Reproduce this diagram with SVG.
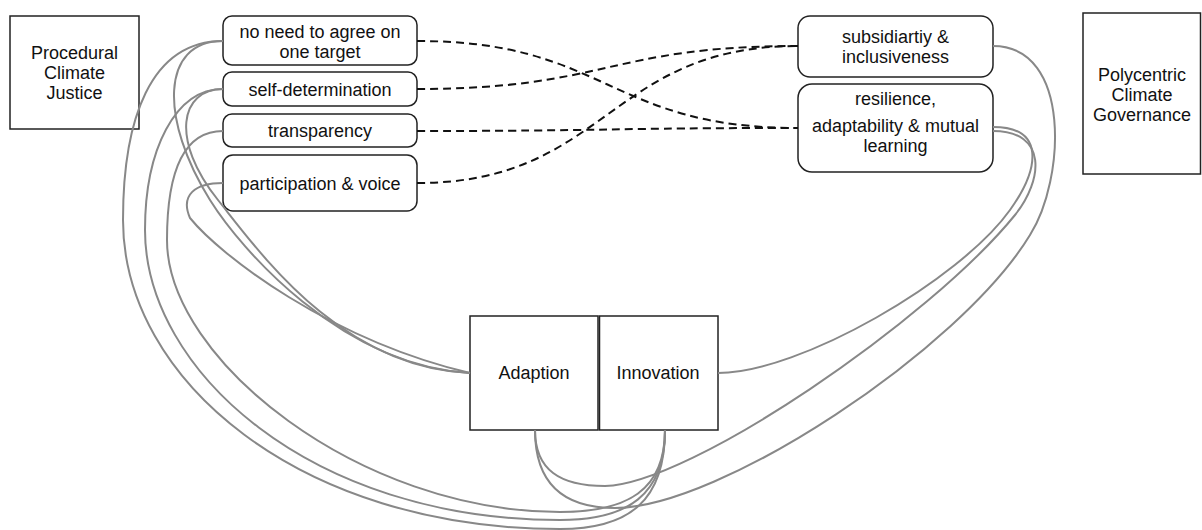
<svg xmlns="http://www.w3.org/2000/svg" width="1202" height="530" viewBox="0 0 1202 530">
<style>
.box{fill:#fff;stroke:#222;stroke-width:1.5}
.t{font-family:"Liberation Sans",Arial,sans-serif;font-size:18px;fill:#111;text-anchor:middle}
.g{fill:none;stroke:#888;stroke-width:2}
.d{fill:none;stroke:#111;stroke-width:2;stroke-dasharray:8 5}
</style>
<rect width="1202" height="530" fill="#fff"/>
<g id="nodes">
<g id="procedural"><rect class="box" x="10" y="16" width="129" height="113"/><text class="t" x="74.5" y="59">Procedural</text><text class="t" x="74.5" y="79">Climate</text><text class="t" x="74.5" y="99">Justice</text></g>
<g id="polycentric"><rect class="box" x="1083" y="13" width="117.5" height="161"/><text class="t" x="1142" y="81">Polycentric</text><text class="t" x="1142" y="101">Climate</text><text class="t" x="1142" y="121">Governance</text></g>
<g id="noneed"><rect class="box" x="223" y="16" width="194" height="49" rx="9"/><text class="t" x="320" y="38">no need to agree on</text><text class="t" x="320" y="58">one target</text></g>
<g id="selfdet"><rect class="box" x="223" y="72" width="194" height="34" rx="9"/><text class="t" x="320" y="95.5">self-determination</text></g>
<g id="transparency"><rect class="box" x="223" y="114" width="194" height="33" rx="9"/><text class="t" x="320" y="137">transparency</text></g>
<g id="participation"><rect class="box" x="223" y="155" width="194" height="56" rx="10"/><text class="t" x="320" y="189.5">participation &amp; voice</text></g>
<g id="subsidiarity"><rect class="box" x="798" y="16" width="195" height="61" rx="12"/><text class="t" x="895.5" y="43">subsidiartiy &amp;</text><text class="t" x="895.5" y="63">inclusiveness</text></g>
<g id="resilience"><rect class="box" x="798" y="84" width="195" height="88" rx="14"/><text class="t" x="895.5" y="105">resilience,</text><text class="t" x="895.5" y="132">adaptability &amp; mutual</text><text class="t" x="895.5" y="152">learning</text></g>
<g id="adaption"><rect class="box" x="470" y="316" width="128" height="114"/><text class="t" x="534" y="379">Adaption</text></g>
<g id="innovation"><rect class="box" x="599.5" y="316" width="118.5" height="114"/><text class="t" x="658" y="379">Innovation</text></g>
</g>
<g id="connectors">
<path class="d" d="M417,41 C607,41 608,128 798,128"/>
<path class="d" d="M417,89 C607,89 608,46 798,46"/>
<path class="d" d="M417,131 C607,131 608,128 798,128"/>
<path class="d" d="M417,183 C607,183 608,46 798,46"/>
<path class="g" d="M223,41 C160,41 160,120 210,200 C240,248 340,365 470,373"/>
<path class="g" d="M223,89 C180,89 170,140 218,200 C258,250 340,368 470,373"/>
<path class="g" d="M223,183 C195,183 180,195 190,218 C220,255 330,340 470,373"/>
<path class="g" d="M223,41 C150,41 123,120 123,220 C123,380 300,529 560,529 C630,529 665,500 665,430"/>
<path class="g" d="M223,89 C175,89 145,150 145,230 C145,370 310,520 560,520 C628,520 665,495 665,430"/>
<path class="g" d="M223,131 C185,131 167,170 167,240 C167,360 360,512 560,512 C628,512 665,490 665,430"/>
<path class="g" d="M718,373 C800,373 960,280 1010,210 C1040,168 1045,127 993,127"/>
<path class="g" d="M535,430 C535,470 560,486 605,486 C690,484 930,320 1015,215 C1043,180 1048,131 993,131"/>
<path class="g" d="M535,430 C535,490 570,508 615,508 C720,508 960,350 1030,235 C1065,180 1072,46 993,46"/>
</g>
</svg>
